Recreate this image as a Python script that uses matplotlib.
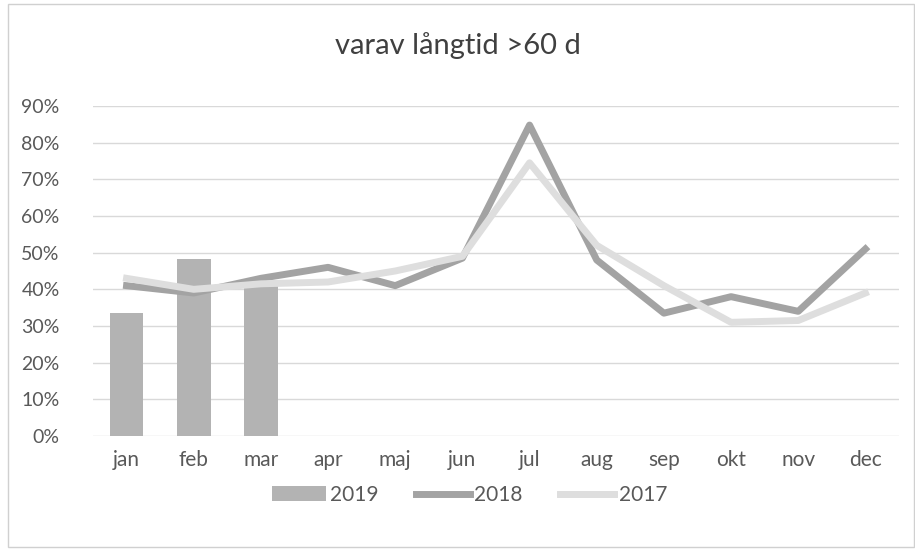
import numpy as np
import matplotlib.pyplot as plt
from matplotlib.patches import Rectangle
from matplotlib.ticker import PercentFormatter

months = ['jan', 'feb', 'mar', 'apr', 'maj', 'jun', 'jul', 'aug', 'sep', 'okt', 'nov', 'dec']
y2019 = [0.335, 0.483, 0.423]
y2018 = [0.41, 0.39, 0.43, 0.46, 0.41, 0.485, 0.848, 0.48, 0.335, 0.38, 0.34, 0.51]
y2017 = [0.43, 0.40, 0.415, 0.42, 0.45, 0.49, 0.745, 0.52, 0.41, 0.31, 0.315, 0.39]

plt.rcParams['font.family'] = ['Lato', 'DejaVu Sans']
txt = '#595959'

fig = plt.figure(figsize=(9.15, 5.53), dpi=100)
ax = fig.add_axes([0.1016, 0.2116, 0.8809, 0.5967])

x = np.arange(len(months))
b = ax.bar(x[:len(y2019)], y2019, 0.5, color='#b3b3b3', zorder=2, label='2019')
l1, = ax.plot(x, y2018, color='#a3a3a3', lw=5, zorder=3, label='2018', solid_joinstyle='round')
l2, = ax.plot(x, y2017, color='#dedede', lw=5, zorder=4, label='2017', solid_joinstyle='round')

ax.set_xlim(-0.5, len(months) - 0.5)
ax.set_ylim(0, 0.9)
ax.set_yticks(np.arange(0, 0.91, 0.1))
ax.yaxis.set_major_formatter(PercentFormatter(1.0, decimals=0))
ax.set_xticks(x, months)
ax.grid(axis='y', color='#d9d9d9', lw=1, zorder=0)
for s in ax.spines.values():
    s.set_visible(False)
ax.tick_params(axis='x', length=0, labelsize=15, labelcolor=txt, pad=10)
ax.tick_params(axis='y', length=0, labelsize=14, labelcolor=txt, pad=24)

fig.text(0.5, 0.918, 'varav långtid >60 d', ha='center', va='center', fontsize=21, color='#404040')
fig.legend([b, l1, l2], ['2019', '2018', '2017'], loc='center', bbox_to_anchor=(0.513, 0.105),
           ncol=3, frameon=False, fontsize=15, labelcolor=txt, handlelength=2.6,
           handletextpad=0.2, columnspacing=1.8)

fig.patches.append(Rectangle((0.009, 0.01), 0.99, 0.982, transform=fig.transFigure,
                             fill=False, edgecolor='#d0d0d0', lw=1))

fig.savefig('out.png')
